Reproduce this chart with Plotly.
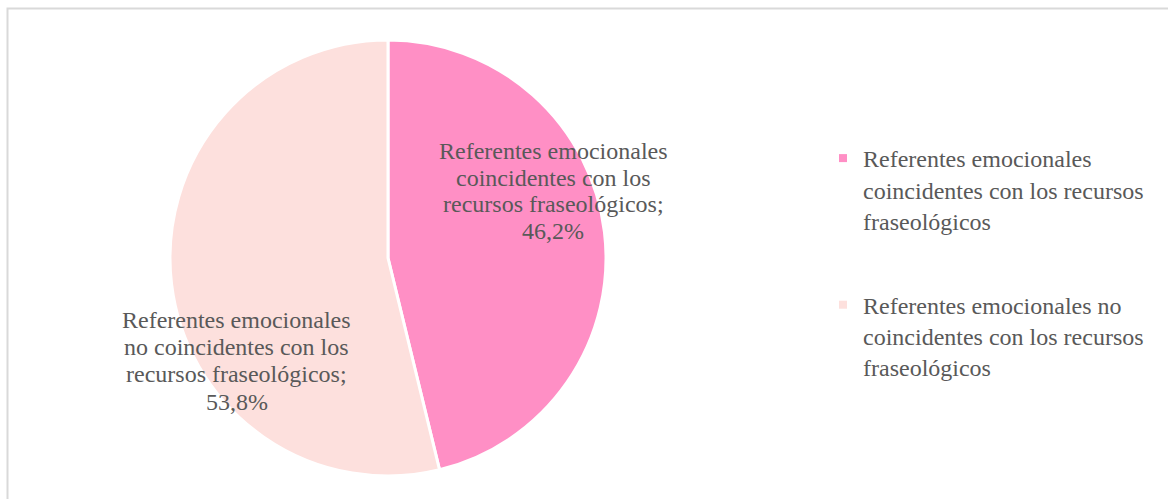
import plotly.graph_objects as go

categories = [
    "Referentes emocionales coincidentes con los recursos fraseológicos",
    "Referentes emocionales no coincidentes con los recursos fraseológicos",
]
legend_labels = [
    "Referentes emocionales<br>coincidentes con los recursos<br>fraseológicos",
    "Referentes emocionales no<br>coincidentes con los recursos<br>fraseológicos",
]
slice_label_lines = [
    ["Referentes emocionales", "coincidentes con los", "recursos fraseológicos;"],
    ["Referentes emocionales", "no coincidentes con los", "recursos fraseológicos;"],
]
values = [46.2, 53.8]
colors = ["#FF8FC5", "#FDE0DD"]

W, H = 1168, 499
FONT = "Liberation Serif"
TXT = "#595959"

fig = go.Figure()

fig.add_trace(go.Pie(
    labels=categories,
    values=values,
    sort=False,
    direction="clockwise",
    rotation=0,
    marker=dict(colors=colors, line=dict(color="white", width=3)),
    textinfo="none",
    hoverinfo="percent",
    domain=dict(x=[(388 - 218) / W, (388 + 218) / W], y=[(H - 476) / H, (H - 40) / H]),
    showlegend=False,
))

# legend entries (same categories / colours as the pie)
for i in range(2):
    fig.add_trace(go.Scatter(
        x=[None], y=[None], mode="markers", name=legend_labels[i],
        legendgroup=f"g{i}",
        marker=dict(symbol="square", size=8, color=colors[i]),
        hoverinfo="skip",
    ))

def fmt(v):
    return f"{v:.1f}".replace(".", ",") + "%"

# label block: centre x, first-line centre y, line step
label_pos = [(553, 151, 26.7), (236.5, 320, 27.2)]
for i, (x, y0, step) in enumerate(label_pos):
    lines = slice_label_lines[i] + [fmt(values[i])]
    for k, line in enumerate(lines):
        fig.add_annotation(
            x=x / W, y=1 - (y0 + k * step) / H, xref="paper", yref="paper",
            text=line, showarrow=False, align="center",
            font=dict(family=FONT, size=24, color=TXT),
            xanchor="center", yanchor="middle",
        )

fig.add_shape(type="rect", xref="paper", yref="paper",
              x0=7.5 / W, x1=1.05, y0=-0.05, y1=1 - 8.5 / H,
              line=dict(color="#D9D9D9", width=2), fillcolor="rgba(0,0,0,0)")

fig.update_layout(
    width=W, height=H,
    margin=dict(l=0, r=0, t=0, b=0),
    paper_bgcolor="white",
    plot_bgcolor="white",
    font=dict(family=FONT, size=24, color=TXT),
    xaxis=dict(visible=False),
    yaxis=dict(visible=False),
    legend=dict(
        x=823 / W, y=1 - 136 / H, xanchor="left", yanchor="top",
        font=dict(family=FONT, size=24, color=TXT),
        tracegroupgap=50, valign="top",
        bgcolor="rgba(0,0,0,0)",
    ),
)

fig.write_html("out.html", config={"displayModeBar": False},
               post_script="document.body.style.margin='0';document.body.style.overflow='hidden';")
